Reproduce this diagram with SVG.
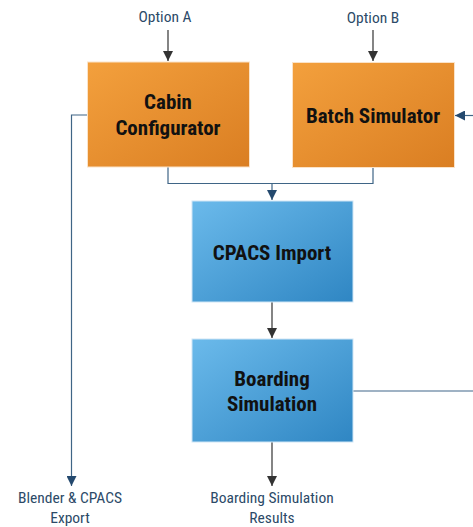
<svg xmlns="http://www.w3.org/2000/svg" width="473" height="527" viewBox="0 0 473 527">
  <defs>
    <linearGradient id="gOrange" x1="0" y1="0" x2="1" y2="1">
      <stop offset="0" stop-color="#f3a03d"/>
      <stop offset="1" stop-color="#da7e22"/>
    </linearGradient>
    <linearGradient id="gBlue" x1="0" y1="0" x2="1" y2="1">
      <stop offset="0" stop-color="#6bbaeb"/>
      <stop offset="1" stop-color="#2f86c3"/>
    </linearGradient>
    <marker id="ahDark" viewBox="0 0 10 10" refX="10" refY="5" markerWidth="10" markerHeight="10" markerUnits="userSpaceOnUse" orient="auto">
      <path d="M0,0 L10,5 L0,10 z" fill="#333"/>
    </marker>
    <marker id="ahBlue" viewBox="0 0 10 10" refX="10" refY="5" markerWidth="10" markerHeight="10" markerUnits="userSpaceOnUse" orient="auto">
      <path d="M0,0 L10,5 L0,10 z" fill="#24496e"/>
    </marker>
  </defs>
  <style>
    .box { stroke: #fbe3c8; stroke-width: 1; }
    .boxB { stroke: #cfe6f6; stroke-width: 1; }
    .title { font-family: "Liberation Sans Narrow", "Roboto Condensed", "Liberation Sans", sans-serif; font-weight: bold; font-size: 21px; fill: #111; text-anchor: middle; }
    .lbl { font-family: "Liberation Sans Narrow", "Roboto Condensed", "Liberation Sans", sans-serif; font-size: 15.5px; fill: #2c4a68; text-anchor: middle; }
    .dark { fill: none; stroke: #333; stroke-width: 1.2; }
    .blue { fill: none; stroke: #3f6586; stroke-width: 1.2; }
    .pale { fill: none; stroke: #9fb2c4; stroke-width: 2; }
  </style>

  <g id="connectors">
    <line class="dark" x1="168" y1="30" x2="168" y2="61" marker-end="url(#ahDark)"/>
    <line class="dark" x1="373" y1="30" x2="373" y2="61" marker-end="url(#ahDark)"/>
    <polyline class="blue" points="168,167 168,183.5 373,183.5 373,167"/>
    <line class="blue" x1="272" y1="183.5" x2="272" y2="200" marker-end="url(#ahBlue)"/>
    <line class="dark" x1="272" y1="302" x2="272" y2="338" marker-end="url(#ahDark)"/>
    <line class="dark" x1="272" y1="442" x2="272" y2="486" marker-end="url(#ahDark)"/>
    <polyline class="blue" points="87,115 71.5,115 71.5,486" marker-end="url(#ahBlue)"/>
    <line class="pale" x1="353" y1="391" x2="473" y2="391"/>
    <line class="blue" x1="473" y1="115.5" x2="455" y2="115.5" marker-end="url(#ahBlue)"/>
  </g>

  <g id="optionA">
    <text class="lbl" x="165" y="22">Option A</text>
  </g>
  <g id="optionB">
    <text class="lbl" x="373" y="23">Option B</text>
  </g>

  <g id="cabinConfigurator">
    <rect class="box" x="87.5" y="62" width="162" height="105" fill="url(#gOrange)"/>
    <text class="title" x="168" y="109">Cabin</text>
    <text class="title" x="168" y="135">Configurator</text>
  </g>

  <g id="batchSimulator">
    <rect class="box" x="292.5" y="62.5" width="162" height="105" fill="url(#gOrange)"/>
    <text class="title" x="373" y="123">Batch Simulator</text>
  </g>

  <g id="cpacsImport">
    <rect class="boxB" x="192" y="201" width="161" height="101" fill="url(#gBlue)"/>
    <text class="title" x="272" y="260">CPACS Import</text>
  </g>

  <g id="boardingSimulation">
    <rect class="boxB" x="192" y="339" width="161" height="103" fill="url(#gBlue)"/>
    <text class="title" x="272" y="386">Boarding</text>
    <text class="title" x="272" y="411">Simulation</text>
  </g>

  <g id="blenderExport">
    <text class="lbl" x="70" y="503">Blender &amp; CPACS</text>
    <text class="lbl" x="70" y="523">Export</text>
  </g>

  <g id="boardingResults">
    <text class="lbl" x="272" y="503">Boarding Simulation</text>
    <text class="lbl" x="272" y="523">Results</text>
  </g>
</svg>
